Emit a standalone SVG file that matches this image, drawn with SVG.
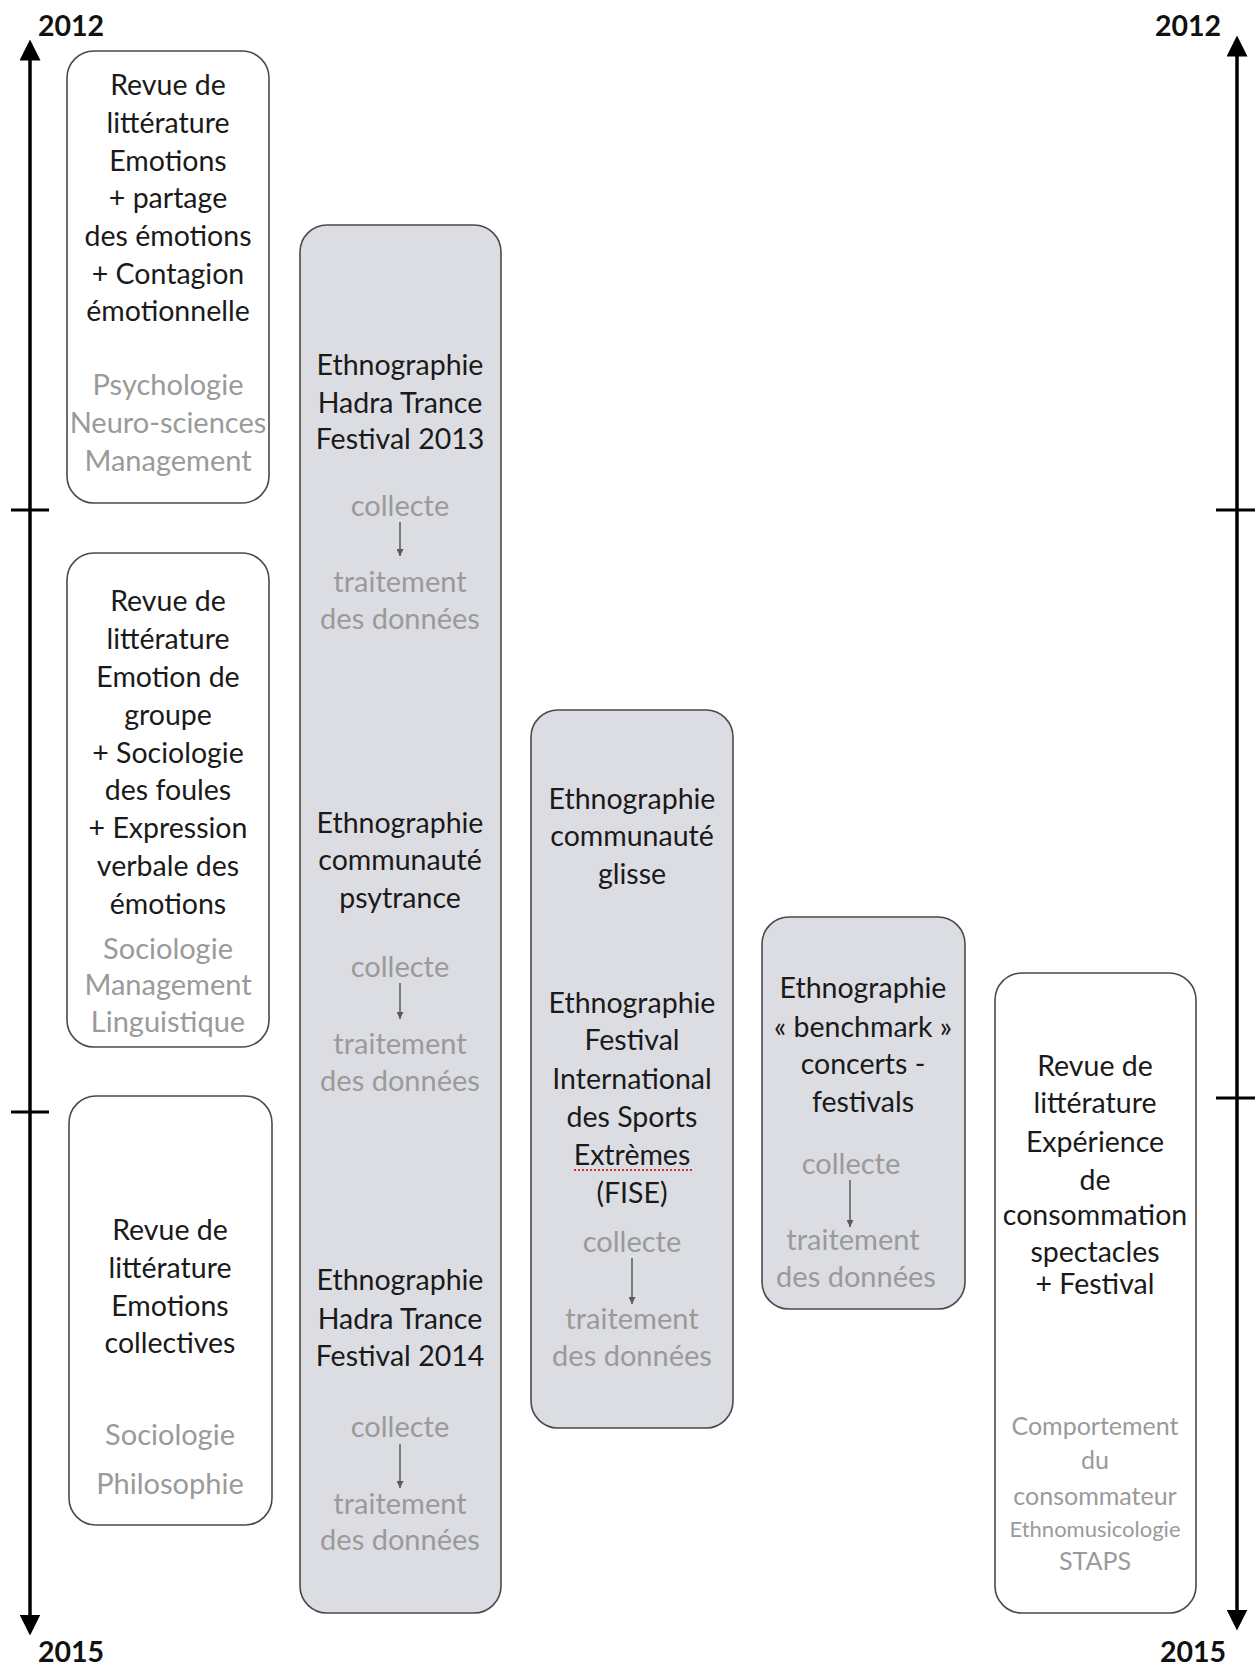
<svg xmlns="http://www.w3.org/2000/svg" width="1255" height="1669" viewBox="0 0 1255 1669">
<style>
.box{fill:#ffffff;stroke:#4a4a4a;stroke-width:1.6}
.gbox{fill:#dcdde2;stroke:#4a4a4a;stroke-width:1.6}
text{font-family:Lato,"Liberation Sans",sans-serif;font-size:28.5px;fill:#1a1a1a;text-anchor:middle}
text.g{fill:#9a9a9a;font-size:29px}
text.yr{font-weight:bold;font-size:28.5px;text-anchor:start;fill:#111}
text.s{font-size:25px}
.axis{stroke:#000;stroke-width:3.5;fill:none}
.tick{stroke:#000;stroke-width:3}
.flow{stroke:#5a5a5a;stroke-width:1.5;fill:none}
</style>
<defs>
<marker id="bigHead" viewBox="0 0 20 20" refX="10" refY="10" markerWidth="21" markerHeight="21" markerUnits="userSpaceOnUse" orient="auto-start-reverse">
<path d="M0,0 L20,10 L0,20 z" fill="#000"/>
</marker>
<marker id="smallHead" viewBox="0 0 10 10" refX="10" refY="5" markerWidth="7" markerHeight="7" markerUnits="userSpaceOnUse" orient="auto">
<path d="M0,0 L10,5 L0,10 z" fill="#5a5a5a"/>
</marker>
</defs>

<g id="axes">
<path class="axis" d="M30,1625 L30,50" marker-start="url(#bigHead)" marker-end="url(#bigHead)"/>
<path class="axis" d="M1237,1620 L1237,46" marker-start="url(#bigHead)" marker-end="url(#bigHead)"/>
<line class="tick" x1="11" y1="510" x2="49" y2="510"/>
<line class="tick" x1="11" y1="1112" x2="49" y2="1112"/>
<line class="tick" x1="1216" y1="510" x2="1255" y2="510"/>
<line class="tick" x1="1216" y1="1098" x2="1255" y2="1098"/>
<text class="yr" x="38" y="36">2012</text>
<text class="yr" x="1155" y="36">2012</text>
<text class="yr" x="38" y="1662">2015</text>
<text class="yr" x="1160" y="1662">2015</text>
</g>

<g id="lit1">
<rect class="box" x="67" y="51" width="202" height="452" rx="27"/>
<text x="168" y="95">Revue de</text>
<text x="168" y="133">littérature</text>
<text x="168" y="171">Emotions</text>
<text x="168" y="208">+ partage</text>
<text x="168" y="246">des émotions</text>
<text x="168" y="284">+ Contagion</text>
<text x="168" y="321">émotionnelle</text>
<text class="g" x="168" y="395">Psychologie</text>
<text class="g" x="168" y="433">Neuro-sciences</text>
<text class="g" x="168" y="471">Management</text>
</g>

<g id="lit2">
<rect class="box" x="67" y="553" width="202" height="494" rx="27"/>
<text x="168" y="611">Revue de</text>
<text x="168" y="649">littérature</text>
<text x="168" y="687">Emotion de</text>
<text x="168" y="725">groupe</text>
<text x="168" y="763">+ Sociologie</text>
<text x="168" y="800">des foules</text>
<text x="168" y="838">+ Expression</text>
<text x="168" y="876">verbale des</text>
<text x="168" y="914">émotions</text>
<text class="g" x="168" y="959">Sociologie</text>
<text class="g" x="168" y="995">Management</text>
<text class="g" x="168" y="1032">Linguistique</text>
</g>

<g id="lit3">
<rect class="box" x="69" y="1096" width="203" height="429" rx="27"/>
<text x="170" y="1240">Revue de</text>
<text x="170" y="1278">littérature</text>
<text x="170" y="1316">Emotions</text>
<text x="170" y="1353">collectives</text>
<text class="g" x="170" y="1445">Sociologie</text>
<text class="g" x="170" y="1494">Philosophie</text>
</g>

<g id="ethnoA">
<rect class="gbox" x="300" y="225" width="201" height="1388" rx="27"/>
<text x="400" y="375">Ethnographie</text>
<text x="400" y="413">Hadra Trance</text>
<text x="400" y="449">Festival 2013</text>
<text class="g" x="400" y="516">collecte</text>
<text class="g" x="400" y="592">traitement</text>
<text class="g" x="400" y="629">des données</text>
<text x="400" y="833">Ethnographie</text>
<text x="400" y="870">communauté</text>
<text x="400" y="908">psytrance</text>
<text class="g" x="400" y="977">collecte</text>
<text class="g" x="400" y="1054">traitement</text>
<text class="g" x="400" y="1091">des données</text>
<text x="400" y="1290">Ethnographie</text>
<text x="400" y="1329">Hadra Trance</text>
<text x="400" y="1366">Festival 2014</text>
<text class="g" x="400" y="1437">collecte</text>
<text class="g" x="400" y="1514">traitement</text>
<text class="g" x="400" y="1550">des données</text>
</g>

<g id="ethnoB">
<rect class="gbox" x="531" y="710" width="202" height="718" rx="27"/>
<text x="632" y="809">Ethnographie</text>
<text x="632" y="846">communauté</text>
<text x="632" y="884">glisse</text>
<text x="632" y="1013">Ethnographie</text>
<text x="632" y="1050">Festival</text>
<text x="632" y="1089">International</text>
<text x="632" y="1127">des Sports</text>
<text x="632" y="1165">Extrèmes</text>
<path d="M574,1170 L693,1170" stroke="#d03030" stroke-width="1.8" stroke-dasharray="2,2"/>
<text x="632" y="1203">(FISE)</text>
<text class="g" x="632" y="1252">collecte</text>
<text class="g" x="632" y="1329">traitement</text>
<text class="g" x="632" y="1366">des données</text>
</g>

<g id="ethnoC">
<rect class="gbox" x="762" y="917" width="203" height="392" rx="27"/>
<text x="863" y="998">Ethnographie</text>
<text x="863" y="1037">« benchmark »</text>
<text x="863" y="1074">concerts -</text>
<text x="863" y="1112">festivals</text>
<text class="g" x="851" y="1174">collecte</text>
<text class="g" x="853" y="1250">traitement</text>
<text class="g" x="856" y="1287">des données</text>
</g>

<g id="lit4">
<rect class="box" x="995" y="973" width="201" height="640" rx="27"/>
<text x="1095" y="1076">Revue de</text>
<text x="1095" y="1113">littérature</text>
<text x="1095" y="1152">Expérience</text>
<text x="1095" y="1190">de</text>
<text x="1095" y="1225">consommation</text>
<text x="1095" y="1262">spectacles</text>
<text x="1095" y="1294">+ Festival</text>
<text class="g s" x="1095" y="1435">Comportement</text>
<text class="g s" x="1095" y="1469">du</text>
<text class="g s" x="1095" y="1505">consommateur</text>
<text class="g" x="1095" y="1537" style="font-size:22px">Ethnomusicologie</text>
<text class="g s" x="1095" y="1570">STAPS</text>
</g>

<g id="connectors">
<line class="flow" x1="400" y1="522" x2="400" y2="556" marker-end="url(#smallHead)"/>
<line class="flow" x1="400" y1="983" x2="400" y2="1019" marker-end="url(#smallHead)"/>
<line class="flow" x1="400" y1="1444" x2="400" y2="1488" marker-end="url(#smallHead)"/>
<line class="flow" x1="632" y1="1258" x2="632" y2="1304" marker-end="url(#smallHead)"/>
<line class="flow" x1="850" y1="1180" x2="850" y2="1227" marker-end="url(#smallHead)"/>
</g>
</svg>
